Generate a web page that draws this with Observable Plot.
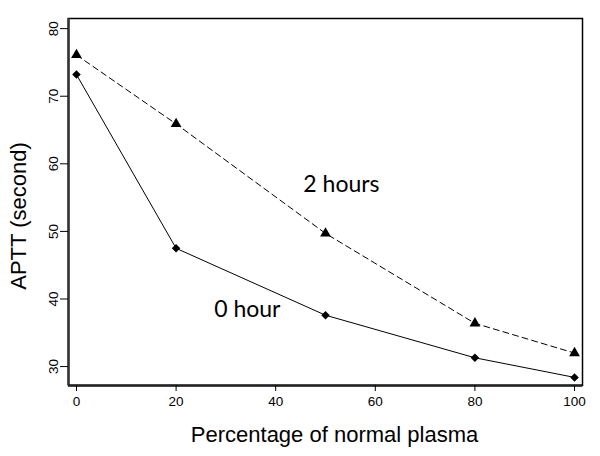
<!DOCTYPE html>
<html><head><meta charset="utf-8">
<script src="https://cdn.jsdelivr.net/npm/d3@7"></script>
<script src="https://cdn.jsdelivr.net/npm/@observablehq/plot@0.6"></script>
<style>body{margin:0;background:#fff}</style>
</head><body><div id="chart"></div>
<script>
const percent = [0, 20, 50, 80, 100];
const hour0 = [73.2, 47.5, 37.6, 31.3, 28.4];
const hour2 = [76.1, 65.9, 49.7, 36.4, 32.0];
const xTicks = [0, 20, 40, 60, 80, 100];
const yTicks = [30, 40, 50, 60, 70, 80];
const labels = [
  {text: "2 hours", x: 53.2, y: 56.9},
  {text: "0 hour", x: 34.3, y: 38.5}
];
const d0 = percent.map((p, i) => ({p, v: hour0[i]}));
const d2 = percent.map((p, i) => ({p, v: hour2[i]}));

const chart = Plot.plot({
  width: 600, height: 456,
  marginLeft: 68, marginRight: 18, marginTop: 18, marginBottom: 71,
  style: {fontFamily: "Liberation Sans, Arial, sans-serif", background: "#fff", color: "#000"},
  x: {domain: [-1.6, 101.6]},
  y: {domain: [27.2, 81.5]},
  marks: [
    Plot.frame({stroke: "#000", strokeWidth: 1.5}),
    Plot.ruleX([-1.6], {stroke: "#333", strokeWidth: 2.5}),
    Plot.ruleY([27.2], {stroke: "#222", strokeWidth: 2.5}),
    Plot.axisX({ticks: xTicks, tickSize: 6, tickPadding: 5, fontSize: 13.5, label: null, tickFormat: d => d}),
    Plot.axisY({ticks: yTicks, tickSize: 8, tickPadding: 3, fontSize: 13.5, tickRotate: -90, label: null, tickFormat: d => d}),
    Plot.line(d2, {x: "p", y: "v", stroke: "#000", strokeWidth: 1, strokeDasharray: "6,4"}),
    Plot.line(d0, {x: "p", y: "v", stroke: "#000", strokeWidth: 1}),
    Plot.dot(d2, {x: "p", y: "v", symbol: "triangle", fill: "#000", r: 4}),
    Plot.dot(d0, {x: "p", y: "v", symbol: "square", rotate: 45, fill: "#000", r: 3.4}),
    Plot.text(labels, {x: "x", y: "y", text: "text", fontSize: 23, fontFamily: "Lato", fill: "#000"}),
    Plot.text(["Percentage of normal plasma"], {frameAnchor: "bottom", dx: 9, dy: 56, fontSize: 22, fill: "#000"}),
    Plot.text(["APTT (second)"], {frameAnchor: "left", textAnchor: "middle", dx: -50, dy: 14, rotate: -90, fontSize: 22, fill: "#000"})
  ]
});
document.getElementById("chart").append(chart);
</script>
</body></html>
